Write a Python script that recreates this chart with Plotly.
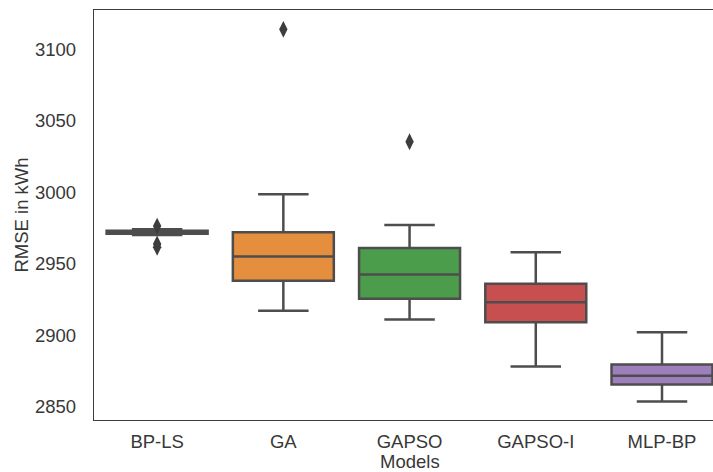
import plotly.graph_objects as go

models = ["BP-LS", "GA", "GAPSO", "GAPSO-I", "MLP-BP"]
q1 = [2971.0, 2938.0, 2925.5, 2909.0, 2865.5]
median = [2972.0, 2955.0, 2942.5, 2923.0, 2871.5]
q3 = [2973.0, 2972.0, 2961.0, 2936.0, 2879.5]
lower_whisker = [2970.0, 2917.0, 2911.0, 2878.0, 2853.5]
upper_whisker = [2974.0, 2998.5, 2977.0, 2958.0, 2902.0]
outlier_model = ["BP-LS", "BP-LS", "BP-LS", "GA", "GAPSO"]
outlier_value = [2976.3, 2963.8, 2961.5, 3114.0, 3035.3]

colors = ["#3274a1", "#e48e3e", "#4b9d4b", "#c84f50", "#9d80bb"]
line_col = "#4d4d4d"
text_col = "#383838"
fs = 18.5

fig = go.Figure()
for i, m in enumerate(models):
    fig.add_trace(go.Box(
        x=[m], q1=[q1[i]], median=[median[i]], q3=[q3[i]],
        lowerfence=[lower_whisker[i]], upperfence=[upper_whisker[i]],
        fillcolor=colors[i], line=dict(color=line_col, width=2.5),
        width=0.8, whiskerwidth=0.5, boxpoints=False, showlegend=False,
        hoverinfo="skip",
    ))

fig.add_trace(go.Scatter(
    x=outlier_model, y=outlier_value, mode="markers",
    marker=dict(symbol="diamond-tall", size=12, color="#3d3d3d",
                line=dict(width=0)),
    showlegend=False, hoverinfo="skip",
))

fig.update_layout(
    width=713, height=472,
    margin=dict(l=94, r=0, t=10, b=52),
    paper_bgcolor="white", plot_bgcolor="white",
    font=dict(family="Liberation Sans, Arial, sans-serif", size=fs, color=text_col),
    boxmode="overlay",
    annotations=[dict(
        text="Models", xref="paper", yref="paper", x=0.5097, y=-0.100,
        xanchor="center", yanchor="middle", showarrow=False, borderpad=0,
        font=dict(size=fs, color=text_col),
    )],
)
fig.update_xaxes(
    type="category", categoryorder="array", categoryarray=models,
    range=[-0.5, 4.404], showgrid=False, zeroline=False,
    showline=True, mirror=True, linecolor="#3c3c3c", linewidth=1.3,
    ticks="", ticklabelstandoff=5,
    tickfont=dict(size=fs, color=text_col),
)
fig.update_yaxes(
    range=[2840.6, 3127.5], tickvals=[2850, 2900, 2950, 3000, 3050, 3100],
    showgrid=False, zeroline=False,
    showline=True, mirror=False, linecolor="#3c3c3c", linewidth=1.3,
    ticks="", ticklabelstandoff=13,
    title=dict(text="RMSE in kWh", standoff=1, font=dict(size=fs, color=text_col)),
    tickfont=dict(size=fs, color=text_col),
)

fig.write_html("out.html")
